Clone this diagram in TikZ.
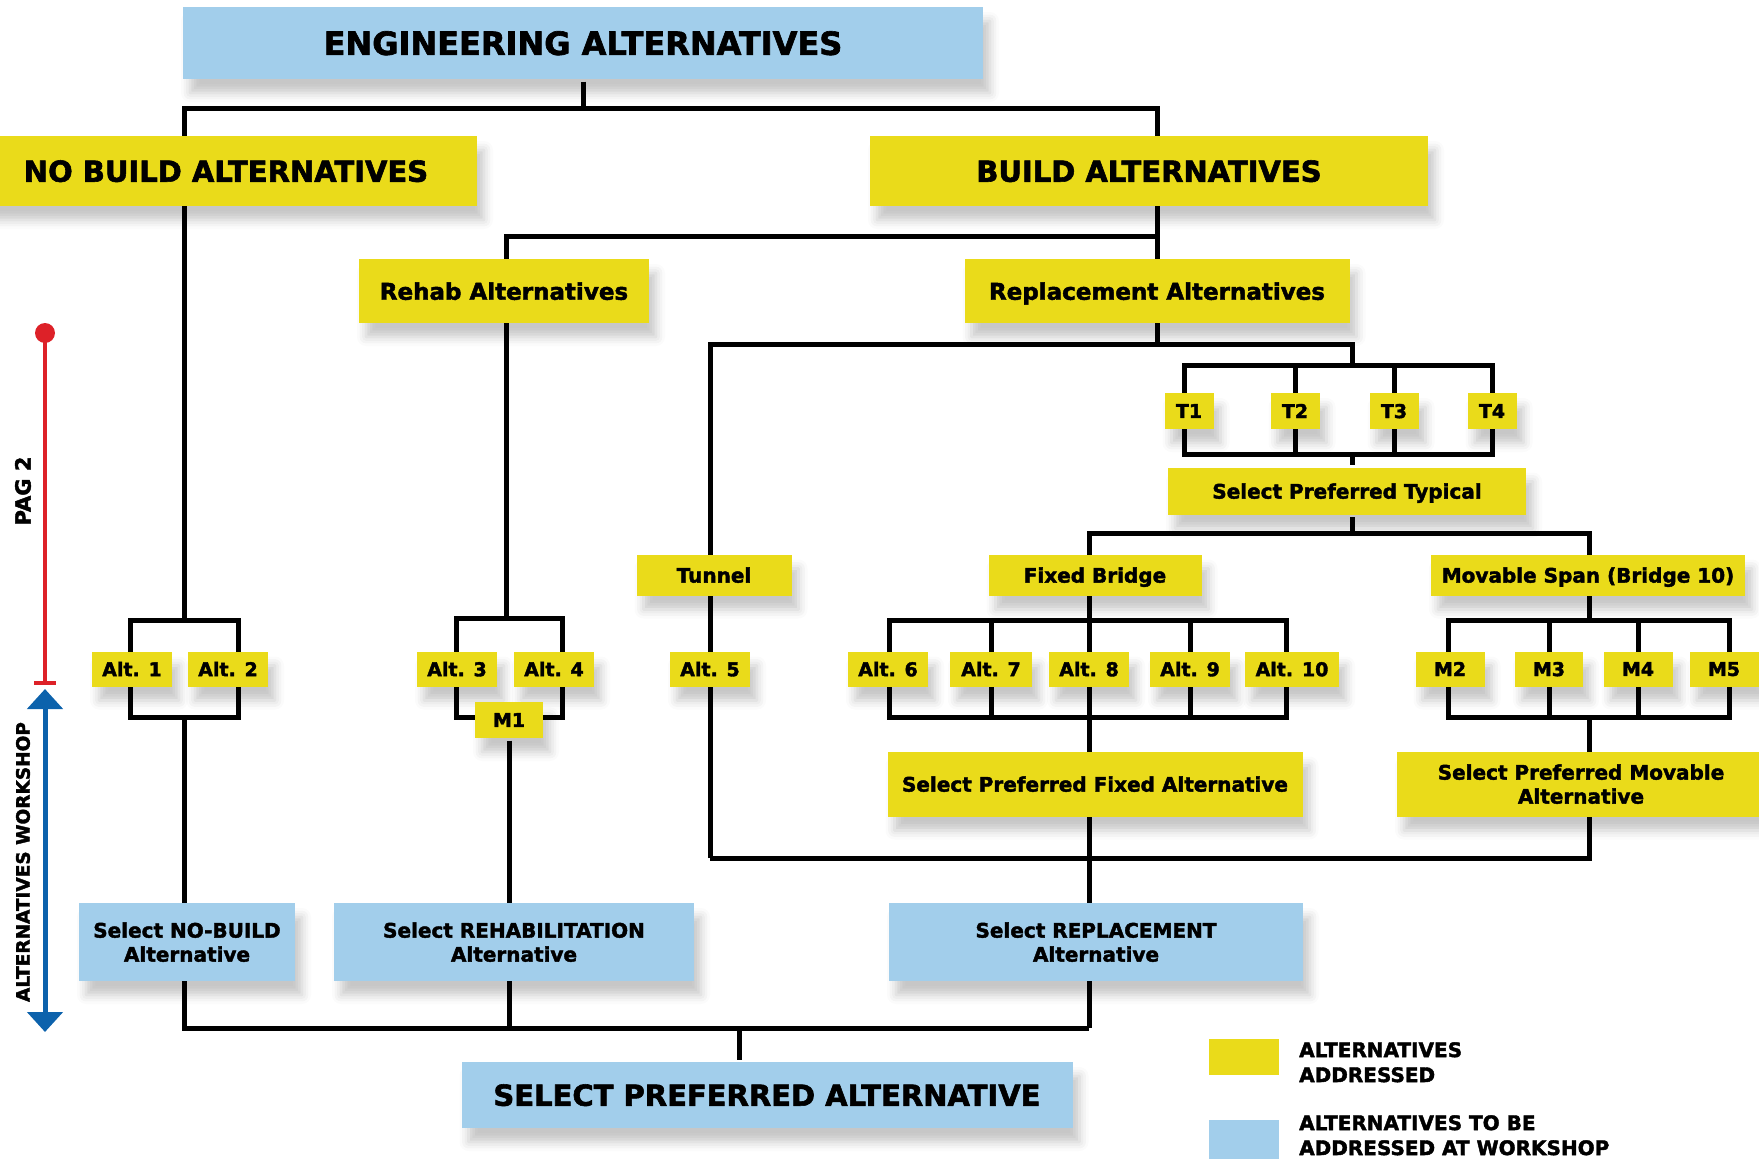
\documentclass[tikz,border=0pt]{standalone}
\usepackage{fontspec}
\setmainfont{DejaVu Sans}[BoldFeatures={FakeBold=2}]
\usetikzlibrary{arrows.meta,shadows.blur}

\definecolor{altyellow}{RGB}{234,219,26}
\definecolor{altblue}{RGB}{162,206,235}
\definecolor{pagred}{RGB}{221,33,40}
\definecolor{wsblue}{RGB}{12,98,172}

\pgfdeclarelayer{background}
\pgfsetlayers{background,main}

\tikzset{every picture/.style={line width=5pt}}
\tikzset{
  box/.style={inner sep=0pt, align=center, font=\bfseries, text depth=0pt,
    blur shadow={shadow xshift=7pt, shadow yshift=-14pt, shadow blur radius=9pt, shadow opacity=22}},
  ybox/.style={box, fill=altyellow},
  bbox/.style={box, fill=altblue},
  link/.style={line width=5pt, black},
  sz/.style 2 args={minimum width=#1, minimum height=#2},
  fa/.style={font=\fontsize{32}{38}\selectfont\bfseries},
  fb/.style={font=\fontsize{29}{35}\selectfont\bfseries},
  fc/.style={font=\fontsize{23}{28}\selectfont\bfseries},
  fd/.style={font=\fontsize{20}{24}\selectfont\bfseries},
  fe/.style={font=\fontsize{19}{23}\selectfont\bfseries},
}

\begin{document}
\begin{tikzpicture}[x=1pt,y=1pt,yscale=-1,xscale=1]
\useasboundingbox (0,0) rectangle (1759,1159);

% Text Node
\node (title) [bbox,fa,sz={800}{72}] at (583,43) {ENGINEERING ALTERNATIVES};
% Text Node
\node (nobuild) [ybox,fb,sz={502}{70}] at (226,171) {NO BUILD ALTERNATIVES};
% Text Node
\node (build) [ybox,fb,sz={558}{70}] at (1149,171) {BUILD ALTERNATIVES};
% Text Node
\node (rehab) [ybox,fc,sz={290}{64}] at (504,291) {Rehab Alternatives};
% Text Node
\node (replace) [ybox,fc,sz={385}{64}] at (1157,291) {Replacement Alternatives};

% Text Node
\node (T1) [ybox,fe,sz={49}{36}] at (1189,411) {T1};
\node (T2) [ybox,fe,sz={49}{36}] at (1295,411) {T2};
\node (T3) [ybox,fe,sz={49}{36}] at (1394,411) {T3};
\node (T4) [ybox,fe,sz={49}{36}] at (1492,411) {T4};
% Text Node
\node (typical) [ybox,fd,sz={358}{47}] at (1347,491) {Select Preferred Typical};

% Text Node
\node (tunnel) [ybox,fd,sz={155}{41}] at (714,575) {Tunnel};
\node (fixed) [ybox,fd,sz={213}{41}] at (1095,575) {Fixed Bridge};
\node (movable) [ybox,fd,sz={314}{41}] at (1588,575) {Movable Span (Bridge 10)};

% Text Node
\node (alt1) [ybox,fe,sz={80}{35}] at (132,669) {Alt. 1};
\node (alt2) [ybox,fe,sz={80}{35}] at (228,669) {Alt. 2};
\node (alt3) [ybox,fe,sz={80}{35}] at (457,669) {Alt. 3};
\node (alt4) [ybox,fe,sz={80}{35}] at (554,669) {Alt. 4};
\node (M1) [ybox,fe,sz={68}{36}] at (509,720) {M1};
\node (alt5) [ybox,fe,sz={80}{35}] at (710,669) {Alt. 5};
\node (alt6) [ybox,fe,sz={80}{35}] at (888,669) {Alt. 6};
\node (alt7) [ybox,fe,sz={82}{35}] at (991,669) {Alt. 7};
\node (alt8) [ybox,fe,sz={80}{35}] at (1089,669) {Alt. 8};
\node (alt9) [ybox,fe,sz={80}{35}] at (1190,669) {Alt. 9};
\node (alt10) [ybox,fe,sz={94}{35}] at (1292,669) {Alt. 10};
\node (M2) [ybox,fe,sz={69}{35}] at (1450,669) {M2};
\node (M3) [ybox,fe,sz={68}{35}] at (1549,669) {M3};
\node (M4) [ybox,fe,sz={69}{35}] at (1638,669) {M4};
\node (M5) [ybox,fe,sz={69}{35}] at (1724,669) {M5};

% Text Node
\node (selfixed) [ybox,fd,sz={415}{65}] at (1095,784) {Select Preferred Fixed Alternative};
\node (selmov) [ybox,fd,sz={368}{65}] at (1581,784) {Select Preferred Movable\\Alternative};

% Text Node
\node (selnb) [bbox,fd,sz={216}{78}] at (187,942) {Select NO-BUILD\\Alternative};
\node (selrehab) [bbox,fd,sz={360}{78}] at (514,942) {Select REHABILITATION\\Alternative};
\node (selrepl) [bbox,fd,sz={414}{78}] at (1096,942) {Select REPLACEMENT\\Alternative};
% Text Node
\node (final) [bbox,fb,sz={611}{66}] at (767,1095) {SELECT PREFERRED ALTERNATIVE};

% junctions
\coordinate (top) at (583,108);
\coordinate (bj) at (1157,236);
\coordinate (rj) at (1157,344);
\coordinate (ttop) at (1352,365);
\coordinate (tj) at (1352,533);
\coordinate (b12top) at (184,620);
\coordinate (b34top) at (506,618);
\coordinate (fbtop) at (1089,620);
\coordinate (mbtop) at (1589,620);
\coordinate (tunbot) at (710,858);
\coordinate (botr) at (1089,1028);
\coordinate (fj) at (739,1028);
% bracket corners
\coordinate (b12a) at (130,620);
\coordinate (b12b) at (238,717);
\coordinate (b34a) at (456,618);
\coordinate (b34b) at (562,717);
\coordinate (tbl) at (1184,365);
\coordinate (tbr) at (1492,454);
\coordinate (fbl) at (889,620);
\coordinate (fbr) at (1286,717);
\coordinate (mbl) at (1448,620);
\coordinate (mbr) at (1729,717);

\begin{pgfonlayer}{background}
\begin{scope}[link]
%Straight Lines
\draw (title) -- (top);
\draw (b12top) |- (top) -| (bj);
\draw (b34top) |- (bj) -- (rj);
\draw (tunbot) |- (rj) -| (ttop);
%Straight Lines
\draw (tbl) rectangle (tbr);
\draw (T2 |- tbl) -- (T2 |- tbr);
\draw (T3 |- tbl) -- (T3 |- tbr);
\draw (tbr -| ttop) -- (typical.north -| ttop);
\draw (typical.south -| tj) -- (tj);
\draw (fbtop) |- (tj) -| (mbtop);
%Straight Lines
\draw (fbl) rectangle (fbr);
\draw (alt7 |- fbl) -- (alt7 |- fbr);
\draw (alt8 |- fbl) -- (alt8 |- fbr);
\draw (alt9 |- fbl) -- (alt9 |- fbr);
\draw (mbl) rectangle (mbr);
\draw (M3 |- mbl) -- (M3 |- mbr);
\draw (M4 |- mbl) -- (M4 |- mbr);
%Straight Lines
\draw (fbr -| fbtop) -- (botr);
\draw (mbr -| mbtop) |- (tunbot);
%Straight Lines
\draw (b12a) rectangle (b12b);
\draw (b12b -| b12top) |- (botr);
\draw (b34a) rectangle (b34b);
\draw (M1) -- (M1 |- botr);
\draw (fj) -- (final.north -| fj);
\end{scope}
\end{pgfonlayer}

% side scale
\coordinate (pagtop) at (45,333);
\coordinate (pagbot) at (45,683);
\coordinate (wstop) at (45,689);
\coordinate (wsbot) at (45,1032);
\fill [pagred] (pagtop) circle (10);
\draw [pagred, line width=4pt] (pagtop) -- (pagbot);
\draw [pagred, line width=4pt] ([xshift=-11pt]pagbot) -- ([xshift=11pt]pagbot);
\draw [wsblue, line width=5pt, {Triangle[width=35pt,length=20pt]}-{Triangle[width=35pt,length=20pt]}] (wstop) -- (wsbot);
% Text Node
\node (pag) [rotate=90, inner sep=0pt, font=\fontsize{21}{25}\selectfont\bfseries] at (23,491) {PAG 2};
\node (ws) [rotate=90, inner sep=0pt, font=\fontsize{18.5}{22}\selectfont\bfseries] at (23,862) {ALTERNATIVES WORKSHOP};

% legend
\node (keyy) [fill=altyellow, inner sep=0pt, sz={70}{36}] at (1244,1057) {};
\node (keyb) [fill=altblue, inner sep=0pt, sz={70}{42}] at (1244,1141) {};
\node (keyyt) [anchor=north west, inner sep=0pt, align=left, font=\fontsize{20}{25}\selectfont\bfseries] at (1299,1042) {ALTERNATIVES\\ADDRESSED};
\node (keybt) [anchor=north west, inner sep=0pt, align=left, font=\fontsize{20}{25}\selectfont\bfseries] at (1299,1115) {ALTERNATIVES TO BE\\ADDRESSED AT WORKSHOP};
\end{tikzpicture}
\end{document}
